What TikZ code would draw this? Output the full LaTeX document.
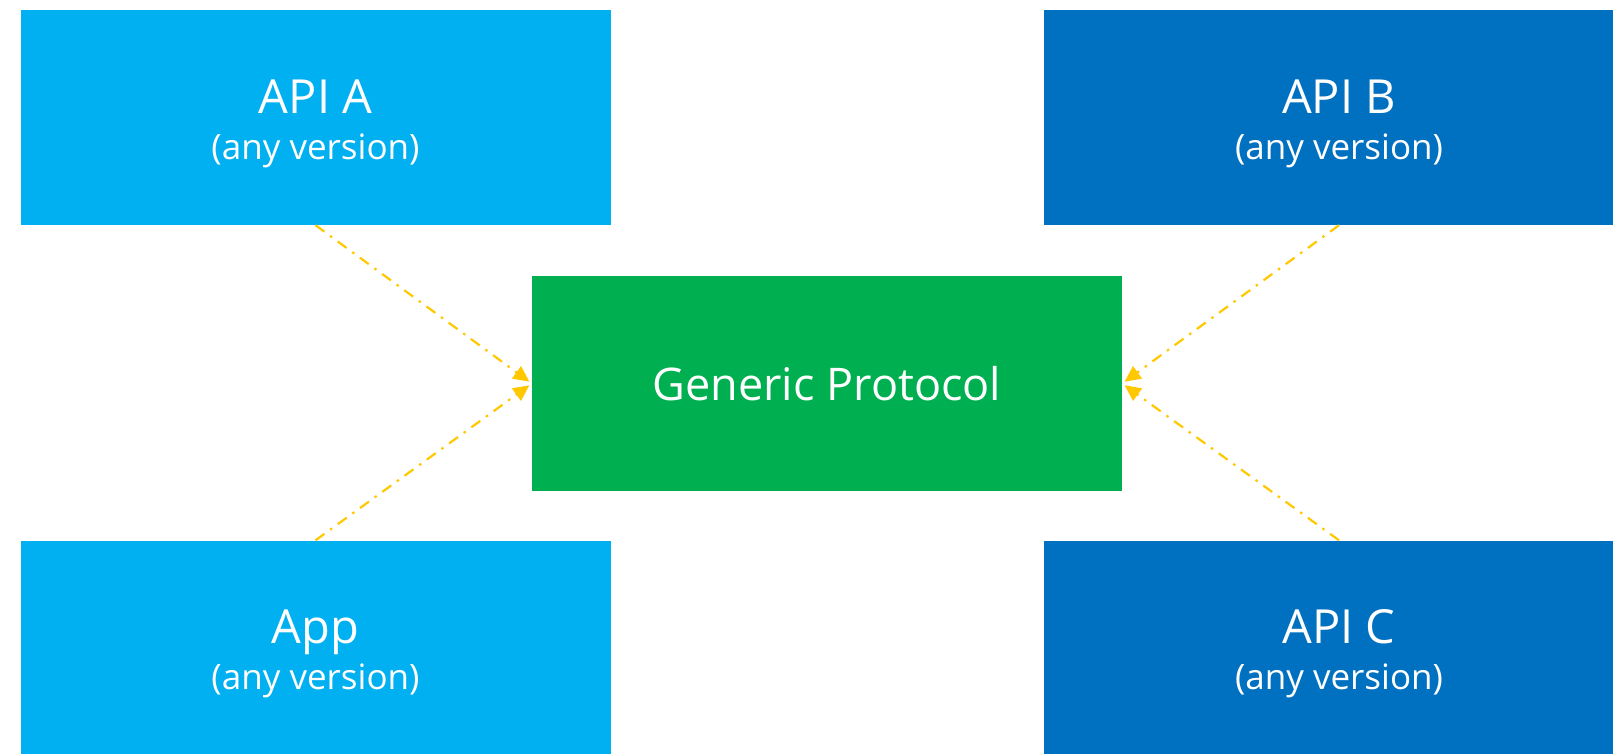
\documentclass[tikz,border=0pt]{standalone}
\usepackage{fontspec}
\setmainfont{Open Sans}
\usetikzlibrary{arrows.meta}

\definecolor{apilight}{HTML}{00B0F0}
\definecolor{apidark}{HTML}{0070C0}
\definecolor{protogreen}{HTML}{00B050}
\definecolor{linkyellow}{HTML}{FFC800}

\newcommand{\titlefont}{\fontsize{47}{46}\selectfont\rule{0pt}{46pt}}
\newcommand{\notefont}{\fontsize{35}{46}\selectfont}

\begin{document}
\begin{tikzpicture}[x=1pt, y=-1pt,
    box/.style={rectangle, minimum width=590pt, minimum height=215pt,
        inner sep=0pt, text=white, align=center,
        font=\fontsize{35}{46}\selectfont},
    link/.style={draw=linkyellow, line width=2.2pt,
        dash pattern=on 11pt off 7pt on 2.5pt off 7pt,
        -{Triangle[length=16pt, width=15pt]}, shorten >=3pt}]
	\useasboundingbox (0, 0) rectangle (1613, 753);
	\node (apiA) at (315.5, 117.5) [box, fill=apilight]
        {\titlefont API A\\\notefont (any version)};
	\node (apiB) at (1339, 117.5) [box, fill=apidark]
        {\titlefont API B\\\notefont (any version)};
	\node (app) at (315.5, 648) [box, fill=apilight]
        {\titlefont App\\\notefont (any version)};
	\node (apiC) at (1339, 648) [box, fill=apidark]
        {\titlefont API C\\\notefont (any version)};
	\node (proto) at (827, 383.5) [box, fill=protogreen]
        {\fontsize{45}{46}\selectfont Generic Protocol};
	\draw[link] (apiA.south) -- (proto.west);
	\draw[link] (app.north) -- (proto.west);
	\draw[link] (apiB.south) -- (proto.east);
	\draw[link] (apiC.north) -- (proto.east);
\end{tikzpicture}
\end{document}
